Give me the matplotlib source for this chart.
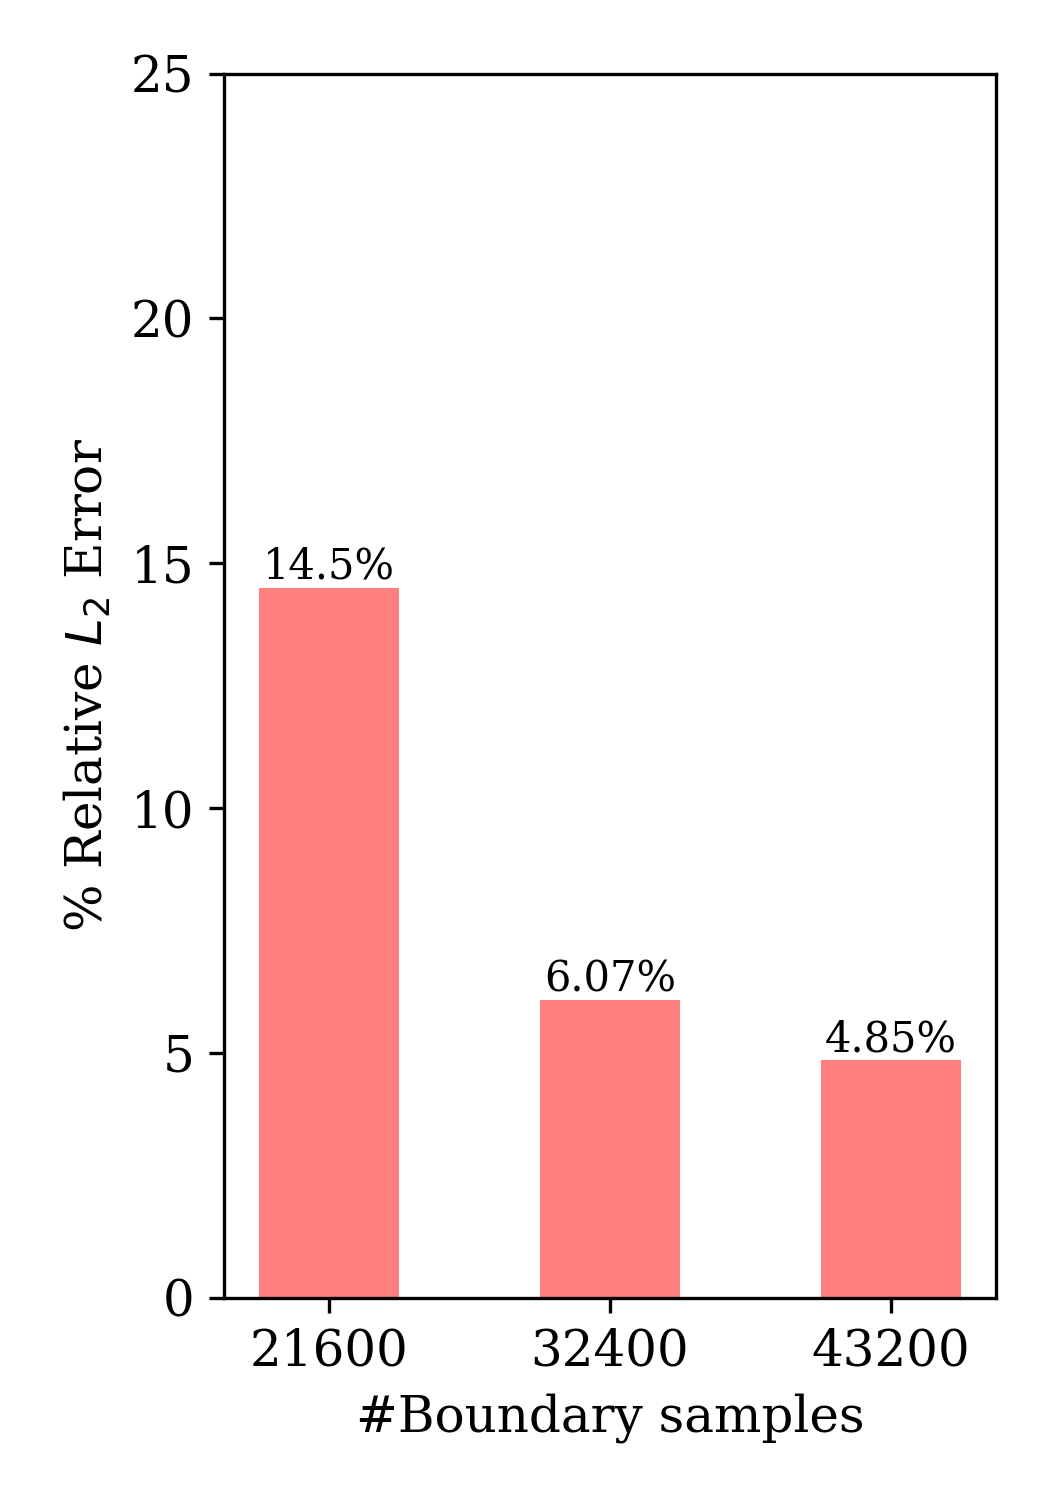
import matplotlib
matplotlib.use('Agg')
from matplotlib import pyplot as plt

samples = ['21600', '32400', '43200']
errors = [14.5, 6.07, 4.85]
labels = ['14.5%', '6.07%', '4.85%']

plt.rcParams['font.family'] = 'serif'
plt.rcParams['font.serif'] = ['DejaVu Serif']
plt.rcParams['font.size'] = 12

fig = plt.figure(figsize=(3.5, 5), dpi=300)
ax = fig.add_axes([0.213, 0.135, 0.736, 0.816])
x = range(len(samples))
bars = ax.bar(x, errors, width=0.5, color='red', alpha=0.5)
for b, lab in zip(bars, labels):
  ax.text(b.get_x() + b.get_width() / 2, b.get_height(), lab,
          ha='center', va='bottom', fontsize=10)
ax.set_xticks(list(x))
ax.set_xticklabels(samples)
ax.set_ylim(0, 25)
ax.set_xlabel('#Boundary samples')
ax.set_ylabel('% Relative $L_2$ Error')
fig.savefig('out.png', dpi=300)
